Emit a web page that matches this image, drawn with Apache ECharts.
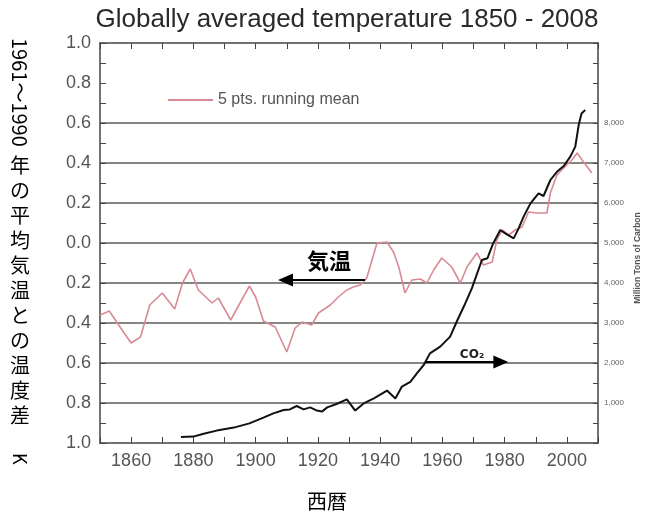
<!DOCTYPE html>
<html><head><meta charset="utf-8">
<script src="https://cdn.jsdelivr.net/npm/echarts@6/dist/echarts.min.js"></script>
<style>html,body{margin:0;padding:0;background:#fff}#c{width:649px;height:513px}</style>
</head><body><div id="c"></div>
<script>
// 5-pt running mean temperature anomaly (K)
const tempYears = [1850,1853,1856,1860,1863,1866,1870,1874,1876.5,1879,1881.6,1886,1888,1892,1895,1898,1900,1902.5,1906.3,1910,1912.7,1915,1918,1920.2,1924,1926.6,1929.3,1931.4,1933.6,1935.7,1939,1942.2,1944.3,1946,1948,1950.2,1952.9,1955,1957.2,1959.8,1963,1965.8,1967.9,1971.1,1973.2,1976,1977.5,1979.2,1981.3,1983.4,1985.6,1987.7,1990.4,1993.6,1994.7,1996.8,1999,2001.6,2003.3,2004.9,2008];
const tempAnomaly = [-0.36,-0.34,-0.41,-0.50,-0.47,-0.31,-0.25,-0.33,-0.20,-0.13,-0.235,-0.30,-0.275,-0.385,-0.30,-0.215,-0.27,-0.39,-0.42,-0.545,-0.425,-0.395,-0.41,-0.35,-0.31,-0.27,-0.235,-0.22,-0.21,-0.175,0.0,0.005,-0.045,-0.12,-0.25,-0.185,-0.18,-0.20,-0.135,-0.075,-0.12,-0.20,-0.12,-0.05,-0.11,-0.095,0.015,0.065,0.04,0.065,0.08,0.155,0.15,0.15,0.25,0.34,0.375,0.415,0.45,0.415,0.35];
// CO2 emissions (million tons of carbon)
const co2Years = [1876,1880,1883,1887.5,1893,1898,1902.5,1905.7,1909,1911,1913.2,1915.4,1917.5,1919.7,1921.3,1923,1926,1929.3,1932,1934.7,1938,1942.2,1944.9,1947,1949.7,1951.8,1954,1956,1959.3,1962.5,1964.7,1967,1969.5,1972.7,1974.5,1976.2,1978.6,1980.2,1982.9,1984.5,1986.1,1988.3,1990.9,1992.5,1994.7,1996.8,1999,2001.1,2002.7,2003.8,2004.7,2005.9];
const co2Emissions = [150,160,225,310,385,490,635,740,825,840,925,840,890,810,785,890,975,1090,810,990,1115,1310,1115,1410,1530,1740,1950,2240,2410,2660,3050,3430,3870,4575,4620,4970,5325,5240,5115,5365,5660,5990,6240,6175,6575,6780,6925,7160,7410,7950,8240,8325];
// tick labels
const yearLabels = [1860,1880,1900,1920,1940,1960,1980,2000];
const tempTicks = [-1.0,-0.8,-0.6,-0.4,-0.2,0.0,0.2,0.4,0.6,0.8,1.0];
const carbonLabels = [1000,2000,3000,4000,5000,6000,7000,8000];
const tempGridShown = [-0.8,-0.6,-0.4,-0.2,0.0,0.2,0.4,0.6];

const tempData = tempYears.map((y,i)=>[y,tempAnomaly[i]]);
const co2Data = co2Years.map((y,i)=>[y,co2Emissions[i]]);
const gridColors = tempTicks.map(v => tempGridShown.some(g=>Math.abs(g-v)<1e-6) ? '#5c5c5c' : 'rgba(0,0,0,0)');

const AX = '#444';
const LAB = "'Liberation Sans', Arial, sans-serif";
const JP = "'Noto Sans CJK JP', sans-serif";

const chart = echarts.init(document.getElementById('c'), null, {renderer:'canvas'});
chart.setOption({
  animation:false,
  backgroundColor:'#fff',
  grid:{left:100, right:51, top:43, bottom:70, containLabel:false},
  legend:{
    data:[{name:'5 pts. running mean', icon:'rect'}], left:163, top:87, itemWidth:45, itemHeight:2, itemGap:5,
    itemStyle:{color:'#d98a94'},
    textStyle:{fontSize:16, color:'#555', fontFamily:LAB}
  },
  xAxis:[
    {type:'value', min:1850, max:2010, interval:10, position:'bottom',
     axisLine:{show:true, onZero:false, lineStyle:{color:AX, width:1.5}},
     axisTick:{show:true, inside:true, length:6, lineStyle:{color:AX}},
     axisLabel:{formatter:v=>yearLabels.indexOf(v)>=0?String(v):'', fontSize:18, color:'#555', fontFamily:LAB, margin:9},
     splitLine:{show:false}},
    {type:'value', min:1850, max:2010, interval:10, position:'top',
     axisLine:{show:true, onZero:false, lineStyle:{color:AX, width:1.5}},
     axisTick:{show:true, inside:true, length:6, lineStyle:{color:AX}},
     axisLabel:{show:false}, splitLine:{show:false}}
  ],
  yAxis:[
    {type:'value', min:-1, max:1, interval:0.2, position:'left',
     axisLine:{show:true, onZero:false, lineStyle:{color:AX, width:1.5}},
     axisTick:{show:true, inside:true, length:6, lineStyle:{color:AX}},
     minorTick:{show:true, splitNumber:2, length:6, lineStyle:{color:AX}},
     axisLabel:{formatter:v=>Math.abs(v).toFixed(1), fontSize:18, color:'#555', fontFamily:LAB, margin:9},
     splitLine:{show:true, lineStyle:{color:gridColors, width:1.6}}},
    {type:'value', min:0, max:10000, interval:1000, position:'right',
     axisLine:{show:true, onZero:false, lineStyle:{color:AX, width:1.5}},
     axisTick:{show:true, inside:true, length:5, lineStyle:{color:AX}},
     minorTick:{show:true, splitNumber:2, length:5, lineStyle:{color:AX}},
     axisLabel:{formatter:v=>carbonLabels.indexOf(v)>=0?v.toLocaleString('en-US'):'', fontSize:8, color:'#666', fontFamily:LAB, margin:6},
     splitLine:{show:false}}
  ],
  series:[
    {name:'5 pts. running mean', type:'line', xAxisIndex:0, yAxisIndex:0, data:tempData, symbol:'none',
     lineStyle:{color:'#d98a94', width:1.6}, itemStyle:{color:'#d98a94'}, z:3,
     markLine:{silent:true, animation:false, label:{show:false}, lineStyle:{color:'#000', width:2, type:'solid'},
       data:[[{coord:[1935.2,-0.185], symbol:'none'},{coord:[1909.6,-0.185], symbol:'triangle', symbolSize:[13,15]}]]}},
    {name:'CO2', type:'line', xAxisIndex:0, yAxisIndex:1, data:co2Data, symbol:'none',
     lineStyle:{color:'#111', width:2}, itemStyle:{color:'#111'}, z:4,
     markLine:{silent:true, animation:false, label:{show:false}, lineStyle:{color:'#000', width:2, type:'solid'},
       data:[[{coord:[1954.5,2025], symbol:'none'},{coord:[1978.8,2025], symbol:'triangle', symbolSize:[13,15]}]]}}
  ],
  graphic:[
    {type:'text', x:347, y:20, style:{text:'Globally averaged temperature 1850 - 2008', font:"26px 'Liberation Sans', Arial, sans-serif", fill:'#2a2a2a', textAlign:'center', textVerticalAlign:'middle'}},
    {type:'text', x:20, y:38, rotation:-Math.PI/2, style:{text:'1961〜1990', font:"20px "+JP, fill:'#000', textAlign:'left', textVerticalAlign:'middle'}},
    {type:'text', x:20, y:153, style:{text:'年\nの\n平\n均\n気\n温\nと\nの\n温\n度\n差', font:"20px "+JP, lineHeight:25, fill:'#000', textAlign:'center', textVerticalAlign:'top'}},
    {type:'text', x:20, y:453, rotation:-Math.PI/2, style:{text:'K', font:"18px "+JP, fill:'#000', textAlign:'left', textVerticalAlign:'middle'}},
    {type:'text', x:327, y:501, style:{text:'西暦', font:"20px "+JP, fill:'#000', textAlign:'center', textVerticalAlign:'middle'}},
    {type:'text', x:329, y:261, style:{text:'気温', font:"bold 22px "+JP, fill:'#000', textAlign:'center', textVerticalAlign:'middle'}},
    {type:'text', x:472, y:355, style:{text:'CO₂', font:"bold 12px 'DejaVu Sans', sans-serif", fill:'#222', textAlign:'center', textVerticalAlign:'middle'}},
    {type:'text', x:638, y:258, rotation:Math.PI/2, style:{text:'Million Tons of Carbon', font:"bold 8.5px 'Liberation Sans', Arial, sans-serif", fill:'#555', textAlign:'center', textVerticalAlign:'middle'}}
  ]
});
</script></body></html>
